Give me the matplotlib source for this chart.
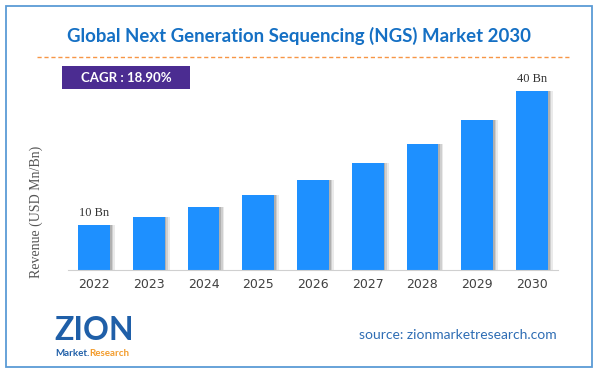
import matplotlib.pyplot as plt
from matplotlib.patches import Rectangle
from matplotlib.lines import Line2D

years = ['2022', '2023', '2024', '2025', '2026', '2027', '2028', '2029', '2030']
revenue = [10.0, 11.9, 14.1, 16.8, 20.0, 23.8, 28.2, 33.6, 40.0]
value_labels = {0: '10 Bn', 8: '40 Bn'}

W, H = 598, 372
fig = plt.figure(figsize=(W / 100, H / 100), dpi=100)

def fx(px):
    return px / W

def fy(py):
    return 1 - py / H

# outer frame
fig.patches.append(Rectangle((fx(6), fy(367)), fx(586), (361) / H, transform=fig.transFigure,
                             fill=False, edgecolor='#5B9BD5', linewidth=1.3))

fig.text(0.5, fy(36), 'Global Next Generation Sequencing (NGS) Market 2030', ha='center', va='center',
         fontsize=13.4, fontweight='bold', color='#1570C4', family='Lato')
fig.lines.append(Line2D([fx(37), fx(570)], [fy(57), fy(57)], transform=fig.transFigure,
                        color='#F79646', linestyle=(0, (3, 2)), linewidth=1))

# CAGR box
fig.patches.append(Rectangle((fx(62), fy(89)), fx(128), 23 / H, transform=fig.transFigure,
                             facecolor='#4B2C91', edgecolor='none'))
fig.text(fx(126), fy(77.5), 'CAGR : 18.90%', ha='center', va='center', fontsize=9.5,
         fontweight='bold', color='white', family='Lato')

ax = fig.add_axes([fx(68), fy(270), fx(490), 210 / H])
x = list(range(len(years)))
# soft shadow
for off, a in [(0.09, 0.12), (0.06, 0.18), (0.03, 0.25)]:
    ax.bar([i + off for i in x], revenue, width=0.58, color='#555555', alpha=a, zorder=1)
ax.bar(x, revenue, width=0.58, color='#1E90FF', zorder=2)

for i, lab in value_labels.items():
    ax.text(i, revenue[i] + 1.4, lab, ha='center', va='bottom', fontsize=9,
            family='Liberation Serif', color='#333333')

ax.set_xlim(-0.475, 8.475)
ax.set_ylim(0, 46.9)
ax.set_xticks(x)
ax.set_xticklabels(years, fontsize=9, color='#404040')
ax.set_yticks([])
ax.tick_params(axis='x', length=0, pad=6)
for s in ['top', 'right', 'left']:
    ax.spines[s].set_visible(False)
ax.spines['bottom'].set_color('#D0D0D0')
ax.set_ylabel('Revenue (USD Mn/Bn)', fontsize=10, family='Liberation Serif', color='#555555')
ax.yaxis.set_label_coords(-0.051, 0.276)

# logo
fig.text(fx(54), fy(331), 'ZION', ha='left', va='center', fontsize=23, fontweight='bold',
         color='#1F5FA8', family='Lato')
t1 = fig.text(fx(55), fy(353), 'Market.', ha='left', va='center', fontsize=7, fontweight='bold',
              color='#1F5FA8', family='Lato')
fig.canvas.draw()
bb = t1.get_window_extent()
fig.text(bb.x1 / W, fy(353), 'Research', ha='left', va='center', fontsize=7, fontweight='bold',
         color='#F39C2C', family='Lato')

fig.text(fx(557), fy(335), 'source: zionmarketresearch.com', ha='right', va='center',
         fontsize=10, color='#2E6DB4', family='Lato')

plt.savefig('out.png', dpi=100)
